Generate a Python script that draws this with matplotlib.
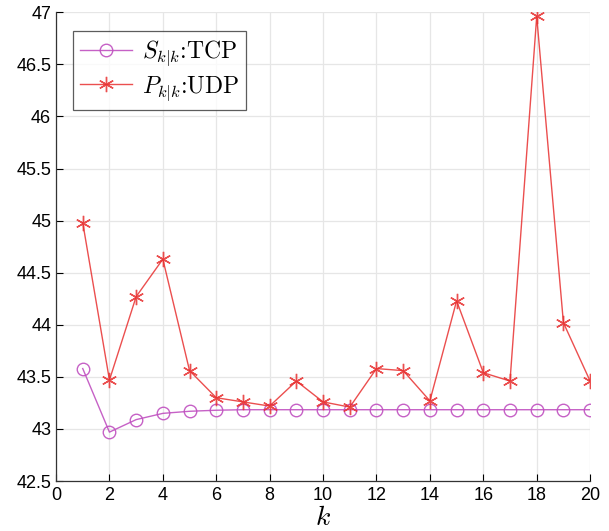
import matplotlib
matplotlib.use("Agg")
import matplotlib.pyplot as plt

k = list(range(1, 21))
tcp = [43.58, 42.97, 43.09, 43.15, 43.17, 43.18, 43.185, 43.185, 43.185, 43.185,
       43.185, 43.185, 43.185, 43.185, 43.185, 43.185, 43.185, 43.185, 43.185, 43.185]
udp = [44.98, 43.47, 44.27, 44.63, 43.56, 43.30, 43.26, 43.22, 43.46, 43.26,
       43.21, 43.58, 43.56, 43.27, 44.23, 43.54, 43.46, 46.96, 44.02, 43.46]
xticks = list(range(0, 21, 2))
yticks = [42.5, 43, 43.5, 44, 44.5, 45, 45.5, 46, 46.5, 47]

plt.rcParams['mathtext.fontset'] = 'cm'
plt.rcParams['font.family'] = ['Liberation Sans', 'DejaVu Sans']

fig = plt.figure(figsize=(6.09, 5.31), dpi=100)
ax = fig.add_axes([0.092, 0.094, 0.877, 0.883])

ax.plot(k, tcp, color='#C050C0', marker='o', markersize=9, markerfacecolor='none',
        markeredgewidth=1.0, linewidth=1.0, label=r'$S_{k|k}$:TCP', alpha=0.9)
ax.plot(k, udp, color='#E83030', linewidth=1.0, alpha=0.85)
ax.plot(k, udp, color='#E83030', marker=(6, 2, 0), markersize=11, linestyle='none',
        markeredgewidth=1.0, alpha=0.85)
ax.plot([], [], color='#E83030', marker=(6, 2, 0), markersize=11, linewidth=1.0,
        markeredgewidth=1.0, label=r'$P_{k|k}$:UDP', alpha=0.85)

ax.set_xlim(0, 20)
ax.set_ylim(42.5, 47)
ax.set_xticks(xticks)
ax.set_yticks(yticks)
ax.set_yticklabels([f"{v:g}" for v in yticks])
ax.tick_params(direction='in', labelsize=13, length=5, width=0.8)
ax.tick_params(axis='x', pad=4)
ax.grid(True, color='#E6E6E6', linewidth=0.9)
ax.set_axisbelow(True)
for s in ['top', 'right']:
    ax.spines[s].set_visible(False)
for s in ['left', 'bottom']:
    ax.spines[s].set_color('#333333')
    ax.spines[s].set_linewidth(0.9)

ax.set_xlabel(r'$k$', fontsize=20, labelpad=1)

leg = ax.legend(loc='upper left', bbox_to_anchor=(0.01, 0.985),
                prop={'family': 'cmr10', 'size': 17},
                frameon=True, fancybox=False, edgecolor='#333333',
                handlelength=2.2, borderpad=0.3, labelspacing=0.25, handletextpad=0.4)
leg.get_frame().set_linewidth(0.9)

fig.savefig('out.png', dpi=100)
